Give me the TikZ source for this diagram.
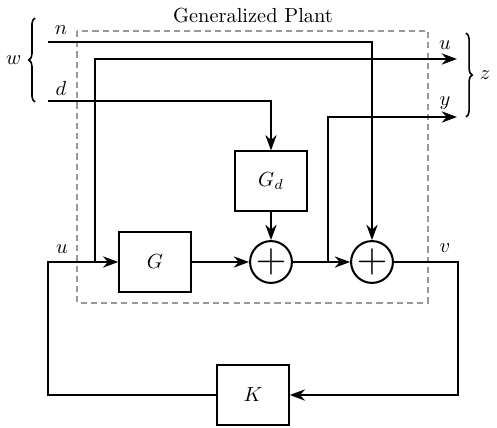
\documentclass[tikz,border=0pt]{standalone}
\usepackage{amsmath}
\usepackage{xcolor}
\usepackage{tikz}
\usetikzlibrary{positioning,arrows.meta,calc,decorations.pathreplacing}
\definecolor{plantgray}{HTML}{999999}

\begin{document}
\begin{tikzpicture}[x=0.49pt,y=-0.49pt,
  blk/.style={draw,line width=1pt,minimum width=35pt,minimum height=29pt,inner sep=0pt},
  sumnode/.style={draw,circle,line width=1pt,minimum size=20.5pt,inner sep=0pt,font=\huge},
  arr/.style={-{Stealth[length=7.5pt,width=5.5pt]},line width=1pt},
  plant/.style={draw=plantgray,line width=1pt,dash pattern=on 3pt off 2pt},
  brc/.style={decorate,decoration={brace,amplitude=3pt},line width=0.8pt}
]
\useasboundingbox (0,0) rectangle (497,427);
\draw[plant] (77,31) rectangle (428,303);
\node (title) at (253,16) {Generalized Plant};
\node[blk] (G) at (155,262) {$G$};
\node[blk] (Gd) at (271,181) {$G_d$};
\node[sumnode] (s1) at (271,262) {$+$};
\node[sumnode] (s2) at (372,262) {$+$};
\node[blk] (K) at (253,395) {$K$};
% signal ends
\coordinate (nin) at (48,42);
\coordinate (din) at (48,101);
\coordinate (uout) at (457,59);
\coordinate (yout) at (457,117);
\coordinate (vr) at (458,262);
\coordinate (ul) at (48,262);
\coordinate (ub) at (95,262);
\coordinate (yb) at (328,262);
\draw[arr] (nin) -- (nin -| s2) -- (s2.north);
\draw[arr] (din) -| (Gd.north);
\draw[arr] (Gd) -- (s1);
\draw[arr] (G) -- (s1);
\draw[arr] (s1) -- (s2);
\draw[arr] (s2) -- (vr) |- (K.east);
\draw[arr] (K.west) -| (ul) -- (G.west);
\draw[arr] (ub) |- (uout);
\draw[arr] (yb) |- (yout);
% labels
\node (ln) at (61,30) {$n$};
\node (ld) at (61,88) {$d$};
\node (lu) at (62,249) {$u$};
\node (lv) at (445,248) {$v$};
\node (luo) at (445,45) {$u$};
\node (lyo) at (445,103) {$y$};
\draw[brc] (35,102) -- (35,18) node[midway,left=3pt] (lw) {$w$};
\draw[brc] (466,33) -- (466,117) node[midway,right=3pt] (lz) {$z$};
\end{tikzpicture}
\end{document}
